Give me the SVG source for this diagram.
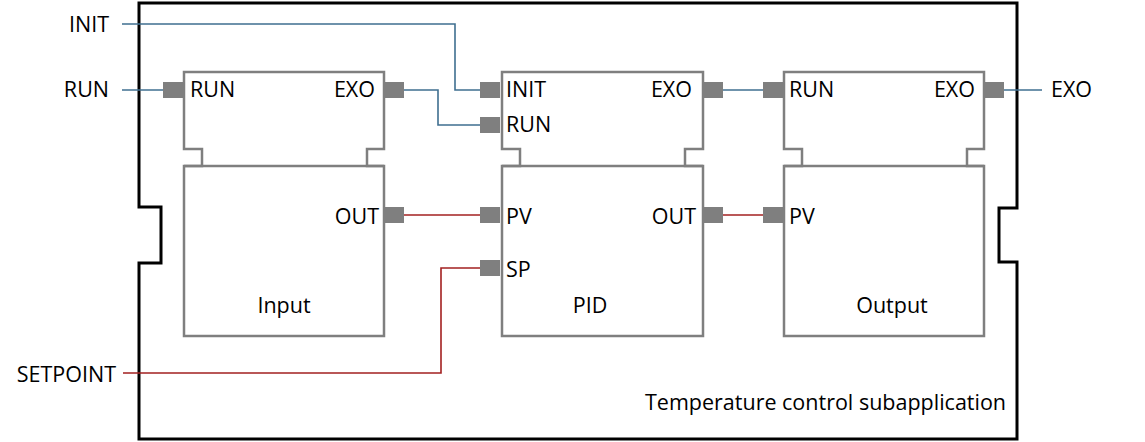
<svg xmlns="http://www.w3.org/2000/svg" width="1145" height="442" viewBox="0 0 1145 442">
<style>
text{font-family:"Open Sans","Segoe UI","Liberation Sans",sans-serif;fill:#000}
.lbl{font-size:21.5px}
.ext{font-size:21.5px}
.blk{fill:#fff;stroke:#7f7f7f;stroke-width:2.5}
.port{fill:#7f7f7f}
.ev{fill:none;stroke:#3f6f90;stroke-width:1.6}
.dt{fill:none;stroke:#a32020;stroke-width:1.6}
</style>
<rect width="1145" height="442" fill="#fff"/>
<g id="subapp">
<path d="M139,3 H1017 V208 H999 V262 H1017 V439 H139 V263 H161 V207 H139 Z" fill="none" stroke="#000" stroke-width="3"/>
<text class="ext" x="645" y="410">Temperature control subapplication</text>
</g>
<g id="connectors">
<path class="ev" d="M122,24 H455 V90 H480"/>
<path class="ev" d="M122,90 H163"/>
<path class="ev" d="M404,90 H438 V125 H480"/>
<path class="ev" d="M722,90 H763"/>
<path class="ev" d="M1004,90 H1042"/>
<path class="dt" d="M404,215 H480"/>
<path class="dt" d="M123,373 H441 V268 H480"/>
<path class="dt" d="M722,215 H763"/>
</g>
<g id="ext-inputs">
<text class="ext" x="109" y="32" text-anchor="end">INIT</text>
<text class="ext" x="109" y="97" text-anchor="end">RUN</text>
<text class="ext" x="116" y="382" text-anchor="end">SETPOINT</text>
<text class="ext" x="1051" y="97">EXO</text>
</g>
<g id="input">
<path class="blk" d="M184,72 H384 V149 H367 V166 H384 V336 H184 V166 H202 V149 H184 Z"/>
<line x1="184" y1="166" x2="384" y2="166" stroke="#7f7f7f" stroke-width="2.5"/>
<rect class="port" x="163" y="82" width="20" height="16"/>
<rect class="port" x="384" y="82" width="20" height="16"/>
<rect class="port" x="384" y="207" width="20" height="16"/>
<text class="lbl" x="190" y="97">RUN</text>
<text class="lbl" x="375" y="97" text-anchor="end">EXO</text>
<text class="lbl" x="379" y="224" text-anchor="end">OUT</text>
<text class="lbl" x="284" y="313" text-anchor="middle">Input</text>
</g>
<g id="pid">
<path class="blk" d="M502,72 H703 V149 H685 V166 H703 V336 H502 V166 H520 V149 H502 Z"/>
<line x1="502" y1="166" x2="703" y2="166" stroke="#7f7f7f" stroke-width="2.5"/>
<rect class="port" x="480" y="82" width="20" height="16"/>
<rect class="port" x="480" y="117" width="20" height="16"/>
<rect class="port" x="703" y="82" width="20" height="16"/>
<rect class="port" x="480" y="207" width="20" height="16"/>
<rect class="port" x="480" y="260" width="20" height="16"/>
<rect class="port" x="703" y="207" width="20" height="16"/>
<text class="lbl" x="506" y="97">INIT</text>
<text class="lbl" x="506" y="132">RUN</text>
<text class="lbl" x="692" y="97" text-anchor="end">EXO</text>
<text class="lbl" x="506" y="224">PV</text>
<text class="lbl" x="506" y="277">SP</text>
<text class="lbl" x="696" y="224" text-anchor="end">OUT</text>
<text class="lbl" x="590" y="313" text-anchor="middle">PID</text>
</g>
<g id="output">
<path class="blk" d="M784,72 H984 V149 H967 V166 H984 V336 H784 V166 H802 V149 H784 Z"/>
<line x1="784" y1="166" x2="984" y2="166" stroke="#7f7f7f" stroke-width="2.5"/>
<rect class="port" x="763" y="82" width="20" height="16"/>
<rect class="port" x="984" y="82" width="20" height="16"/>
<rect class="port" x="763" y="207" width="20" height="16"/>
<text class="lbl" x="789" y="97">RUN</text>
<text class="lbl" x="975" y="97" text-anchor="end">EXO</text>
<text class="lbl" x="789" y="224">PV</text>
<text class="lbl" x="892" y="313" text-anchor="middle">Output</text>
</g>
</svg>
